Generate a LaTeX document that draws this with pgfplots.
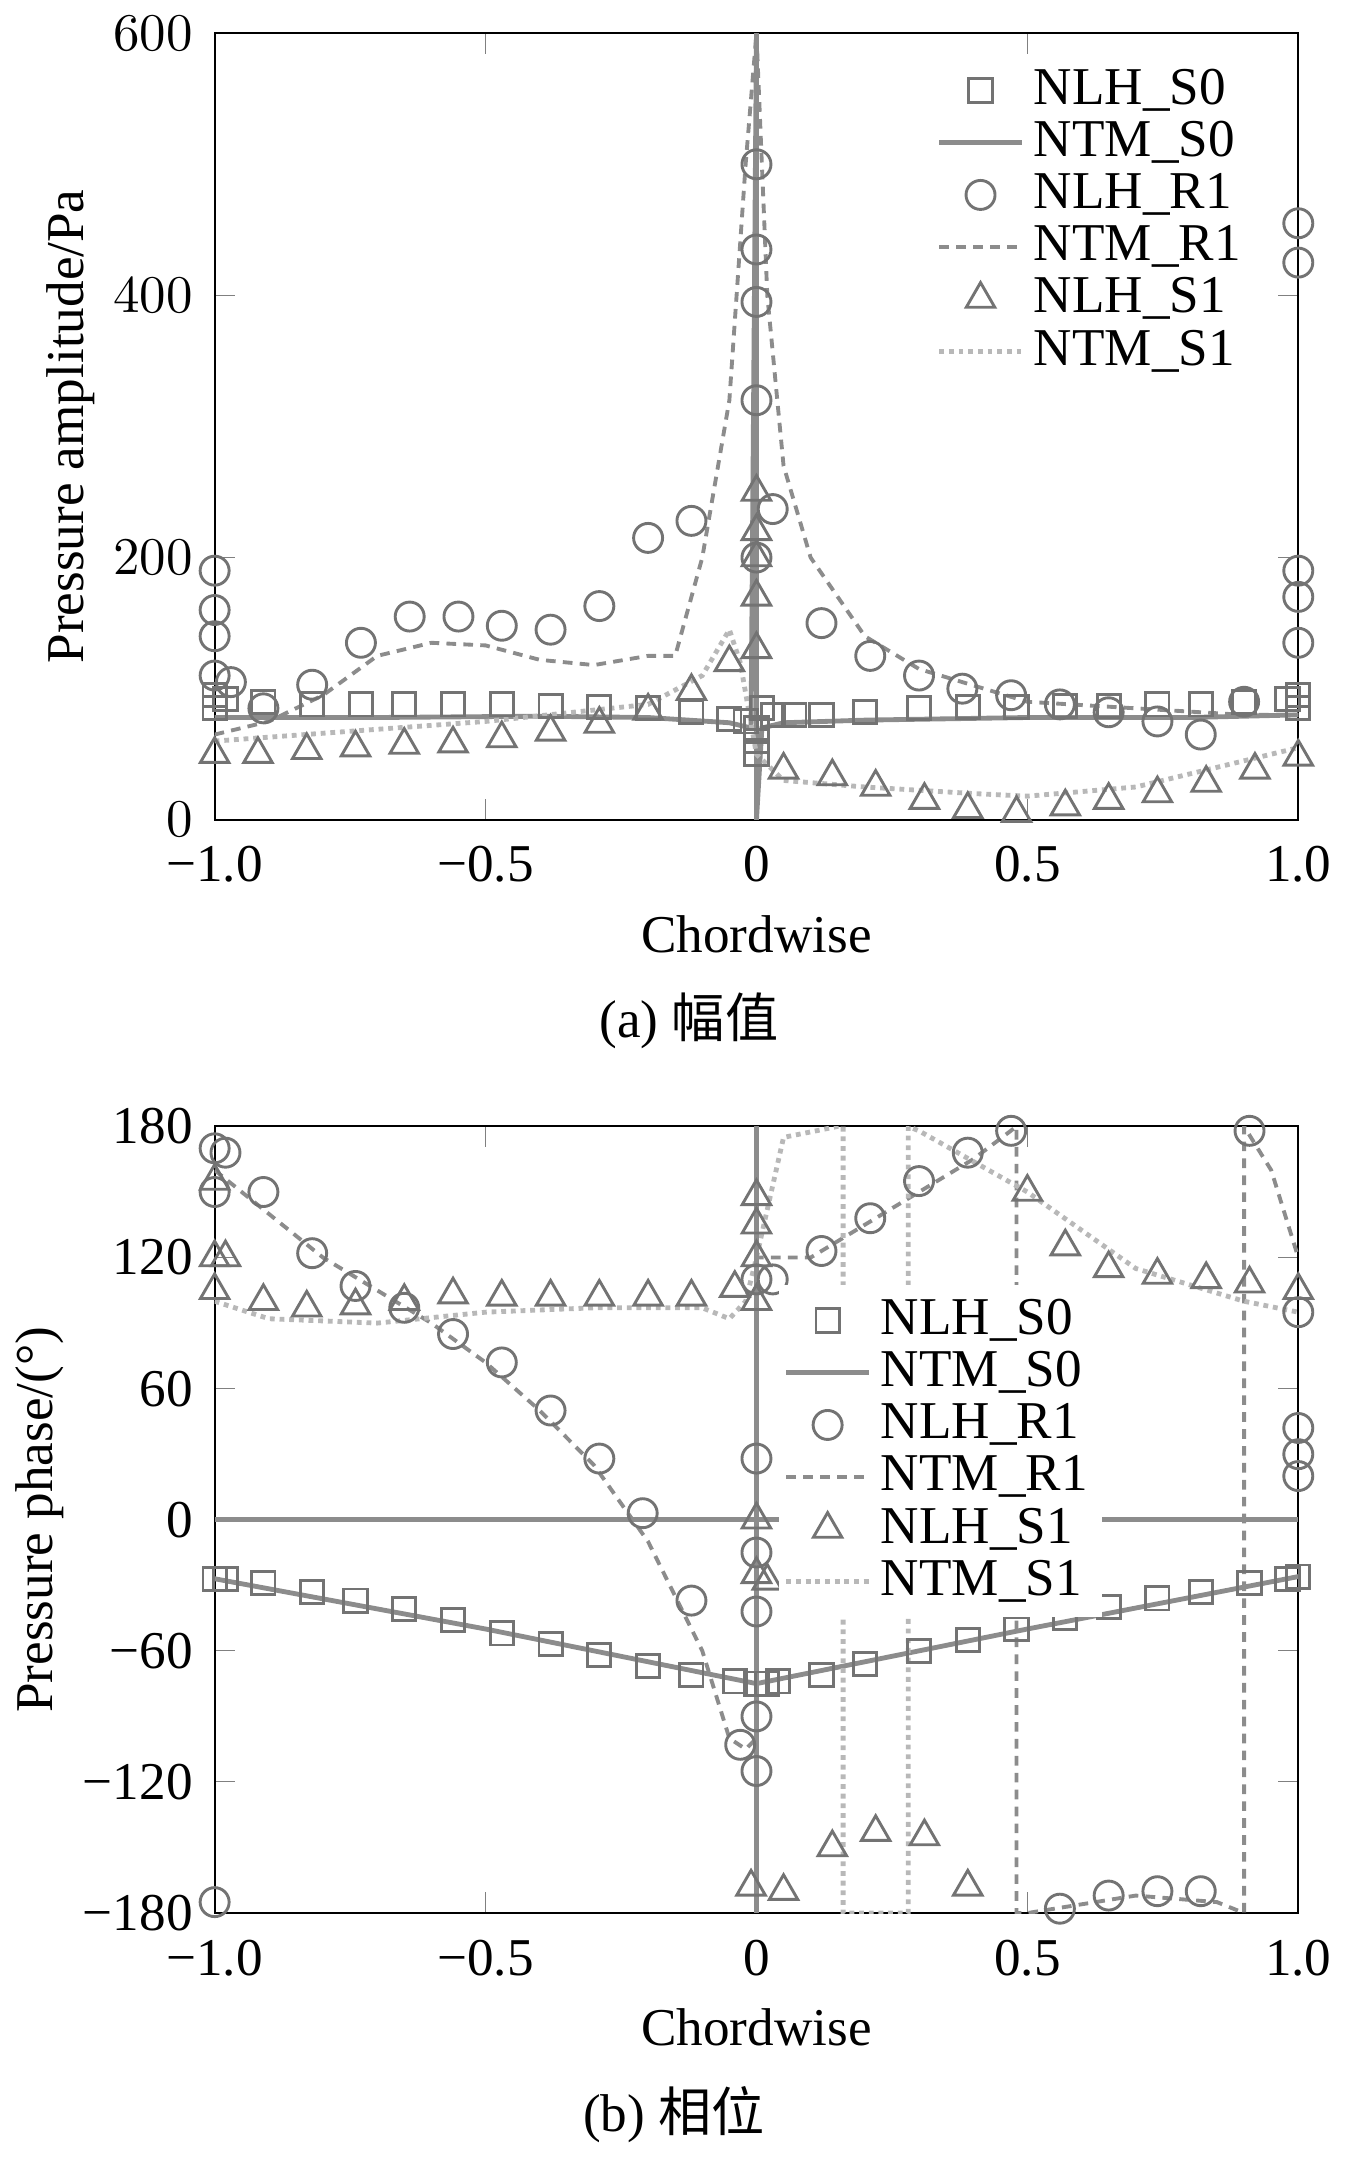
\documentclass[border=0pt]{standalone}
\usepackage{pgfplots}
\pgfplotsset{compat=1.18}
\usepackage{fontspec}
\setmainfont{Liberation Serif}
\newfontfamily\cjk{Noto Sans CJK SC}
\definecolor{mk}{gray}{0.45}
\definecolor{ln}{gray}{0.55}
\definecolor{lt}{gray}{0.72}
\begin{document}
\begin{tikzpicture}
\pgfplotsset{
 myax/.style={width=7.88cm,height=5.72cm,scale only axis,xmin=-1,xmax=1,
  tick align=inside,xtick={-1,-0.5,0,0.5,1},
  xticklabels={−1.0,−0.5,0,0.5,1.0},
  xticklabel style={yshift=-2pt},yticklabel style={xshift=-1pt},
  ylabel style={yshift=-3pt},
  xlabel={Chordwise},font=\fontsize{11}{13}\selectfont,
  legend style={draw=none,fill=white,font=\fontsize{11}{12}\selectfont,legend cell align=left,row sep=-2pt},
  },
 sq/.style={only marks,mark=square,mark size=2.4pt,color=mk,mark options={line width=0.6pt}},
 ci/.style={only marks,mark=o,mark size=3pt,color=mk,mark options={line width=0.6pt}},
 tr/.style={only marks,mark=triangle,mark size=3.4pt,color=mk,mark options={line width=0.6pt}},
 l0/.style={no marks,color=ln,line width=1pt},
 l1/.style={no marks,color=ln,line width=0.8pt,dash pattern=on 2pt off 1.5pt},
 l2/.style={no marks,color=lt,densely dotted,line width=1pt},
}
\begin{axis}[myax,name=a1,ymin=0,ymax=600,ytick={0,200,400,600},ylabel={Pressure amplitude/Pa},
 legend style={at={(0.97,0.98)},anchor=north east,fill=none}]
\addplot[sq] coordinates {(-1,95)(-1,85)(-0.98,92)(-0.91,90)(-0.82,88)(-0.73,88)(-0.65,88)(-0.56,88)(-0.47,88)(-0.38,87)(-0.29,86)(-0.2,85)(-0.12,82)(-0.05,77)(-0.02,75)(0,70)(0,60)(0,50)(0.01,85)(0.03,80)(0.07,80)(0.12,80)(0.2,82)(0.3,85)(0.39,86)(0.48,86)(0.57,87)(0.65,87)(0.74,88)(0.82,88)(0.9,90)(0.98,92)(1,95)(1,85)};
\addlegendentry{NLH\_S0}
\addplot[l0] coordinates {(-1,78)(-0.7,78)(-0.4,79)(-0.2,78)(-0.05,74)(-0.01,70)(0,600)(0,0)(0.01,70)(0.05,74)(0.2,76)(0.5,78)(0.8,78)(1,80)};
\addlegendentry{NTM\_S0}
\addplot[ci] coordinates {(-1,190)(-1,160)(-1,140)(-1,110)(-0.97,105)(-0.91,85)(-0.82,103)(-0.73,135)(-0.64,155)(-0.55,155)(-0.47,148)(-0.38,145)(-0.29,163)(-0.2,215)(-0.12,228)(0,500)(0,435)(0,395)(0,320)(0,200)(0.03,237)(0.12,150)(0.21,125)(0.3,110)(0.38,100)(0.47,95)(0.56,88)(0.65,82)(0.74,75)(0.82,65)(0.9,90)(1,455)(1,425)(1,190)(1,170)(1,135)};
\addlegendentry{NLH\_R1}
\addplot[l1] coordinates {(-1,65)(-0.9,75)(-0.8,95)(-0.7,125)(-0.6,135)(-0.5,133)(-0.4,122)(-0.3,118)(-0.2,125)(-0.15,125)(-0.1,200)(-0.05,320)(-0.02,500)(0,600)(0.02,400)(0.05,270)(0.1,200)(0.2,140)(0.3,115)(0.5,90)(0.7,85)(0.9,80)(1,80)};
\addlegendentry{NTM\_R1}
\addplot[tr] coordinates {(-1,50)(-0.92,50)(-0.83,53)(-0.74,55)(-0.65,57)(-0.56,58)(-0.47,62)(-0.38,67)(-0.29,73)(-0.2,83)(-0.12,98)(-0.05,120)(0,250)(0,220)(0,200)(0,170)(0,130)(0.05,38)(0.14,33)(0.22,25)(0.31,15)(0.39,8)(0.48,5)(0.57,10)(0.65,15)(0.74,20)(0.83,28)(0.92,38)(1,48)};
\addlegendentry{NLH\_S1}
\addplot[l2] coordinates {(-1,60)(-0.5,75)(-0.2,88)(-0.1,110)(-0.05,145)(-0.03,120)(0,50)(0.05,30)(0.2,25)(0.4,20)(0.5,18)(0.7,25)(0.9,45)(1,55)};
\addlegendentry{NTM\_S1}
\end{axis}
\node[below,font=\fontsize{11}{13}\selectfont,yshift=-0.05cm] at (a1.outer south) {(a) {\cjk 幅值}};
\begin{axis}[myax,name=a2,yshift=-7.95cm,ymin=-180,ymax=180,ytick={-180,-120,-60,0,60,120,180},
 yticklabels={−180,−120,−60,0,60,120,180},ylabel={Pressure phase/(°)},
 legend style={at={(0.52,0.8)},anchor=north west,inner sep=1pt}]
\addplot[sq] coordinates {(-1,-27)(-0.98,-27)(-0.91,-29)(-0.82,-33)(-0.74,-37)(-0.65,-41)(-0.56,-46)(-0.47,-52)(-0.38,-57)(-0.29,-62)(-0.2,-67)(-0.12,-71)(-0.04,-74)(0,-75)(0.02,-75)(0.04,-74)(0.12,-71)(0.2,-66)(0.3,-60)(0.39,-55)(0.48,-50)(0.57,-45)(0.65,-40)(0.74,-36)(0.82,-33)(0.91,-29)(0.98,-27)(1,-26)};
\addlegendentry{NLH\_S0}
\addplot[l0] coordinates {(-1,-27)(-0.5,-50)(0,-75)(0.5,-50)(1,-26)};
\addlegendentry{NTM\_S0}
\addplot[ci] coordinates {(-1,170)(-1,150)(-1,-175)(-0.98,168)(-0.91,150)(-0.82,122)(-0.74,107)(-0.65,97)(-0.56,85)(-0.47,72)(-0.38,50)(-0.29,28)(-0.21,3)(-0.12,-37)(-0.03,-103)(0,110)(0,28)(0,-15)(0,-42)(0,-90)(0,-115)(0.03,110)(0.12,123)(0.21,138)(0.3,155)(0.39,168)(0.47,178)(0.56,-178)(0.65,-172)(0.74,-170)(0.82,-170)(0.91,178)(1,95)(1,42)(1,30)(1,20)};
\addlegendentry{NLH\_R1}
\addplot[l1] coordinates {(-1,160)(-0.9,140)(-0.8,120)(-0.7,105)(-0.6,90)(-0.5,72)(-0.4,50)(-0.3,25)(-0.2,-10)(-0.1,-60)(-0.05,-100)(-0.02,-105)(0,-100)(0,120)(0.1,120)(0.2,135)(0.3,150)(0.4,165)(0.48,180)(0.48,-180)(0.5,-180)(0.7,-172)(0.85,-175)(0.9,-180)(0.9,180)(0.95,160)(1,120)};
\addlegendentry{NTM\_R1}
\addplot[tr] coordinates {(-1,155)(-1,120)(-1,105)(-0.98,120)(-0.91,100)(-0.83,97)(-0.74,98)(-0.65,100)(-0.56,103)(-0.47,102)(-0.38,102)(-0.29,102)(-0.2,102)(-0.12,102)(-0.04,106)(0,148)(0,135)(0,120)(0,100)(0,0)(0,-25)(0.02,-28)(-0.01,-168)(0.05,-170)(0.14,-150)(0.22,-143)(0.31,-145)(0.39,-168)(0.5,150)(0.57,125)(0.65,115)(0.74,112)(0.83,110)(0.91,108)(1,105)};
\addlegendentry{NLH\_S1}
\addplot[l2] coordinates {(-1,100)(-0.9,92)(-0.7,90)(-0.5,95)(-0.3,97)(-0.1,97)(-0.05,92)(-0.02,100)(0,120)(0.05,175)(0.15,180)(0.16,180)(0.16,-180)(0.2,-180)(0.28,-180)(0.28,180)(0.3,178)(0.5,150)(0.7,115)(0.9,100)(1,95)};
\addlegendentry{NTM\_S1}
\addplot[l0,forget plot] coordinates {(-1,0)(1,0)};
\addplot[l0,forget plot] coordinates {(0,-180)(0,180)};
\end{axis}
\node[below,font=\fontsize{11}{13}\selectfont,yshift=-0.05cm] at (a2.outer south) {(b) {\cjk 相位}};
\end{tikzpicture}
\end{document}
